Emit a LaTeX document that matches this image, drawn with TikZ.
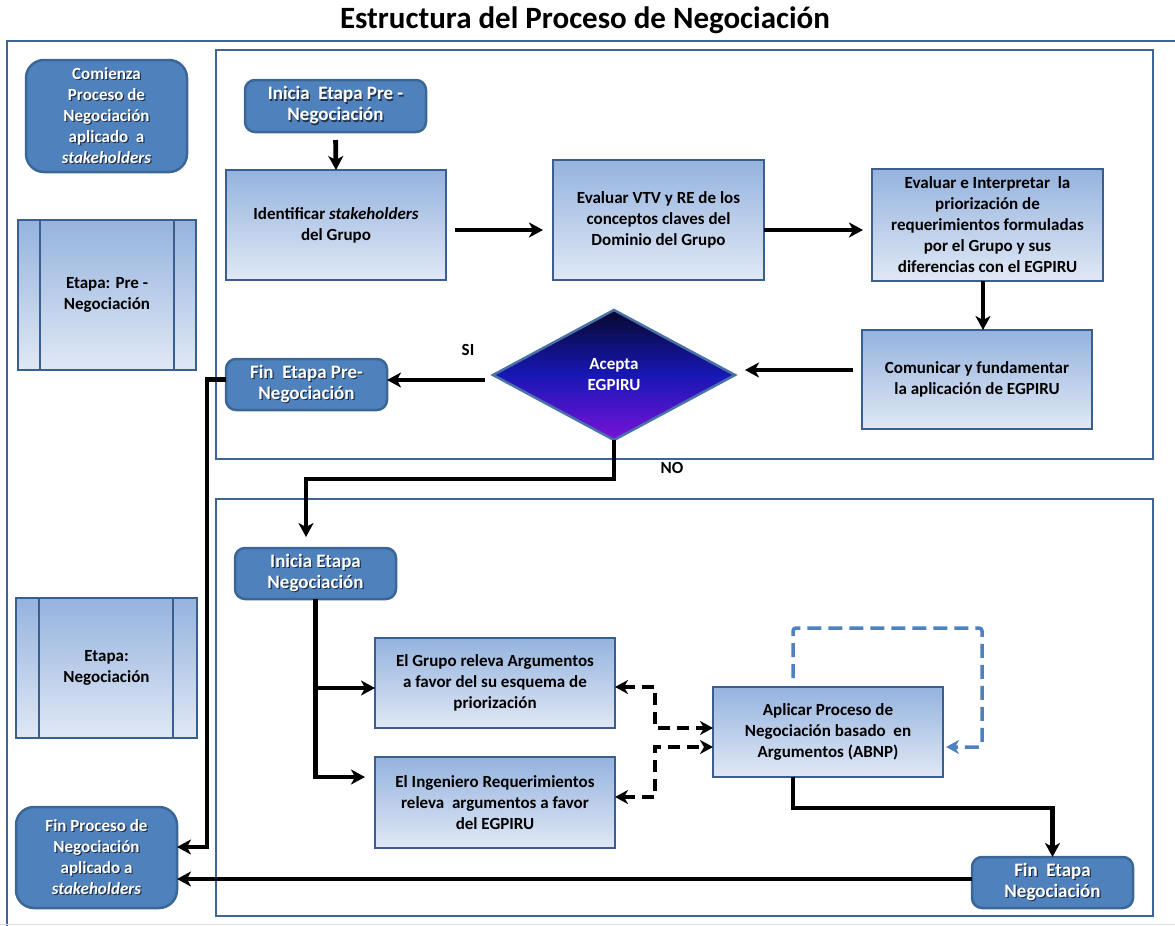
\documentclass[tikz,border=0pt]{standalone}
\usepackage{fontspec}
\setmainfont{Carlito}
\usetikzlibrary{arrows.meta,shapes.geometric,calc}

\definecolor{frameblue}{HTML}{3E6597}
\definecolor{boxedge}{HTML}{3A5F8E}
\definecolor{gradtop}{HTML}{95B3DE}
\definecolor{gradbot}{HTML}{E0E8F5}
\definecolor{roundfill}{HTML}{4F81BD}
\definecolor{roundedge}{HTML}{3B6797}
\definecolor{loopblue}{HTML}{4F81BD}
\definecolor{dtop}{HTML}{08082E}
\definecolor{dmid}{HTML}{1717B5}
\definecolor{dbot}{HTML}{7A12D8}
\definecolor{dedge}{HTML}{4A72A8}
\definecolor{txtshadow}{HTML}{1F2F48}

% one line of white text with a soft drop shadow behind it
\newcommand\shd[1]{\makebox[0pt][l]{\raisebox{-1.2pt}{\hspace{1.2pt}\textcolor{txtshadow}{#1}}}#1}

\begin{document}
\begin{tikzpicture}[x=1pt,y=-1pt,
  every node/.style={inner sep=0pt, outer sep=0pt},
  framebox/.style={draw=frameblue, line width=2.5pt},
  gradbox/.style={rectangle, draw=boxedge, line width=2.5pt,
    top color=gradtop, bottom color=gradbot, align=center,
    font=\bfseries\fontsize{17}{21}\selectfont},
  roundbox/.style={rectangle, rounded corners=#1, draw=roundedge, line width=2.5pt,
    fill=roundfill, text=white, align=center},
  sidetext/.style={font=\bfseries\fontsize{17}{21}\selectfont},
  stagetext/.style={font=\bfseries\fontsize{19}{21}\selectfont},
  flow/.style={line width=4.8pt, -{Stealth[length=14pt,width=15pt,inset=4pt]}},
  dflow/.style={line width=4.5pt, dash pattern=on 12pt off 7pt,
    {Stealth[length=13pt,width=14pt,inset=4pt]}-{Stealth[length=13pt,width=14pt,inset=4pt]}},
  loopflow/.style={draw=loopblue, line width=3.5pt, dash pattern=on 14pt off 7pt,
    rounded corners=3pt, -{Stealth[length=13pt,width=14pt,inset=4pt]}},
  tag/.style={font=\bfseries\fontsize{17}{21}\selectfont}
]
\useasboundingbox (0,0) rectangle (1175,926);
\clip (0,0) rectangle (1175,926);

% title
\node[font=\bfseries\fontsize{31}{36}\selectfont] (title) at (585,20) {Estructura del Proceso de Negociación};

% frames
\draw[framebox] (7,41) rectangle (1195,940);
\draw[gray!25, line width=1.5pt] (0,924.5) -- (1175,924.5);
\draw[framebox] (216,50) rectangle (1153,459);
\draw[framebox] (216,499) rectangle (1153,916);

% left column
\node[roundbox=18pt, sidetext, minimum width=161pt, minimum height=112pt] (comienza) at (106.5,116)
  {\shd{Comienza}\\\shd{Proceso de}\\\shd{Negociación}\\\shd{aplicado~ a}\\\shd{\textit{stakeholders}}};
\node[gradbox, minimum width=178pt, minimum height=150pt] (etpre) at (107,295)
  {Etapa: Pre -\\Negociación};
\draw[draw=boxedge, line width=2.5pt] ($(etpre.north west)+(22,0)$) -- ($(etpre.south west)+(22,0)$);
\draw[draw=boxedge, line width=2.5pt] ($(etpre.north east)+(-22,0)$) -- ($(etpre.south east)+(-22,0)$);
\node[gradbox, minimum width=181pt, minimum height=140pt] (etneg) at (106.5,668)
  {Etapa:\\Negociación};
\draw[draw=boxedge, line width=2.5pt] ($(etneg.north west)+(23,0)$) -- ($(etneg.south west)+(23,0)$);
\draw[draw=boxedge, line width=2.5pt] ($(etneg.north east)+(-24,0)$) -- ($(etneg.south east)+(-24,0)$);
\node[roundbox=18pt, sidetext, minimum width=161pt, minimum height=101pt] (finproc) at (96.5,857.5)
  {\shd{Fin Proceso de}\\\shd{Negociación}\\\shd{aplicado a}\\\shd{\textit{stakeholders}}};

% pre-negotiation stage
\node[roundbox=10pt, stagetext, minimum width=181pt, minimum height=52pt] (inipre) at (335.5,106)
  {\shd{Inicia~ Etapa Pre -}\\\shd{Negociación}};
\node[gradbox, minimum width=220pt, minimum height=110pt] (ident) at (336,225)
  {Identificar \textit{stakeholders}\\del Grupo};
\node[gradbox, minimum width=211pt, minimum height=120pt] (evvtv) at (658.5,220)
  {Evaluar VTV y RE de los\\conceptos claves del\\Dominio del Grupo};
\node[gradbox, minimum width=231pt, minimum height=112pt] (evint) at (987.5,225)
  {Evaluar e Interpretar~ la\\priorización de\\requerimientos formuladas\\por el Grupo y sus\\diferencias con el EGPIRU};
\node[gradbox, minimum width=230pt, minimum height=99pt] (comun) at (977,379.5)
  {Comunicar y fundamentar\\la aplicación de EGPIRU};
\node[diamond, draw=dedge, line width=2.5pt, minimum width=242pt, minimum height=130pt,
  top color=dtop, bottom color=dbot, middle color=dmid, text=white, align=center,
  font=\bfseries\fontsize{17}{21}\selectfont] (acepta) at (614,375) {Acepta\\EGPIRU};
\node[roundbox=10pt, stagetext, minimum width=161pt, minimum height=51pt] (finpre) at (306.5,384.5)
  {\shd{Fin~ Etapa Pre-}\\\shd{Negociación}};
\node[tag] (si) at (468,350) {SI};
\node[tag] (no) at (672,468) {NO};

% negotiation stage
\node[roundbox=10pt, stagetext, minimum width=161pt, minimum height=51pt] (inineg) at (315.5,573.5)
  {\shd{Inicia Etapa}\\\shd{Negociación}};
\node[gradbox, minimum width=240pt, minimum height=90pt] (grupo) at (495,683)
  {El Grupo releva Argumentos\\a favor del su esquema de\\priorización};
\node[gradbox, minimum width=240pt, minimum height=91pt] (ingen) at (495,802.5)
  {El Ingeniero Requerimientos\\releva~ argumentos a favor\\del EGPIRU};
\node[gradbox, minimum width=230pt, minimum height=90pt] (aplicar) at (828,732)
  {Aplicar Proceso de\\Negociación basado~ en\\Argumentos (ABNP)};
\node[roundbox=10pt, stagetext, minimum width=161pt, minimum height=51pt] (finneg) at (1052.5,882.5)
  {\shd{Fin~ Etapa}\\\shd{Negociación}};

% connectors of the pre-negotiation stage
\draw[flow, shorten <=8pt] (inipre.south) -- (ident.north);
\draw[flow, shorten <=9pt, shorten >=10pt] ($(ident.east)+(0,5)$) -- ($(evvtv.west)+(0,10)$);
\draw[flow, shorten >=9pt] ($(evvtv.east)+(0,10)$) -- ($(evint.west)+(0,5)$);
\draw[flow] ($(evint.south)+(-4.5,0)$) -- ($(comun.north)+(6,0)$);
\draw[flow] ($(comun.west)+(-9,-9.5)$) -- ($(acepta.east)+(10,-5)$);
\draw[flow] ($(acepta.west)+(-8,5)$) -- ($(finpre.east)+(0,-4.5)$);
\draw[flow] ($(finpre.west)+(0,-5)$) -- ++(-19,0) |- ($(finproc.east)+(0,-10.5)$);
\draw[flow] (acepta.south) -- ++(0,39) -| ($(inineg.north)+(-9.5,-11)$);

% connectors of the negotiation stage
\draw[flow] (inineg.south) |- ($(grupo.west)+(0,5)$);
\draw[flow] (inineg.south) |- ($(ingen.west)+(-10,-25.5)$);
\draw[dflow] ($(grupo.east)+(0,4)$) -- ++(40,0) |- ($(aplicar.west)+(0,-4)$);
\draw[dflow] ($(ingen.east)+(0,-5.5)$) -- ++(40,0) |- ($(aplicar.west)+(0,15)$);
\draw[loopflow] ($(aplicar.north)+(-35,-9)$) -- ++(0,-50) -- ++(189,0) |- ($(aplicar.east)+(3,15)$);
\draw[flow] ($(aplicar.south)+(-35,0)$) -- ++(0,31) -| (finneg.north);
\draw[flow] ($(finneg.west)+(0,-3.5)$) -- ($(finproc.east)+(0,21.5)$);
\end{tikzpicture}
\end{document}
